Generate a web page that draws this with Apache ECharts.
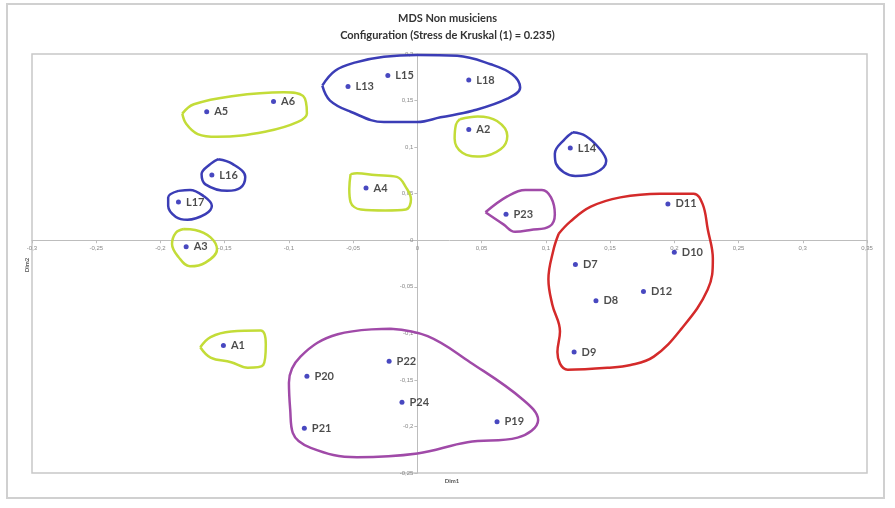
<!DOCTYPE html>
<html>
<head>
<meta charset="utf-8">
<script src="https://cdn.jsdelivr.net/npm/echarts@6/dist/echarts.min.js"></script>
<style>
  html, body { margin: 0; padding: 0; background: #fff; }
  #chart { width: 895px; height: 508px; }
</style>
</head>
<body>
<div id="chart"></div>
<script>
// MDS configuration: stimuli coordinates (Dim1, Dim2)
const names = ['L13', 'L15', 'L18', 'A5', 'A6', 'A2', 'L14', 'L16', 'L17', 'A4', 'A3', 'P23',
  'D11', 'D10', 'D7', 'D8', 'D12', 'D9', 'A1', 'P20', 'P21', 'P22', 'P24', 'P19'];
const dim1 = [-0.054, -0.023, 0.040, -0.164, -0.112, 0.040, 0.119, -0.160, -0.186, -0.040, -0.180, 0.069,
  0.195, 0.200, 0.123, 0.139, 0.176, 0.122, -0.151, -0.086, -0.088, -0.022, -0.012, 0.062];
const dim2 = [0.165, 0.177, 0.172, 0.138, 0.149, 0.119, 0.099, 0.070, 0.041, 0.056, -0.007, 0.028,
  0.039, -0.013, -0.026, -0.065, -0.055, -0.120, -0.113, -0.146, -0.202, -0.130, -0.174, -0.195];

// hand-drawn group outlines, in data coordinates
const outlineL13L15L18 = [[-0.074, 0.166], [-0.064, 0.182], [-0.048, 0.191], [-0.026, 0.197], [0, 0.199],
  [0.031, 0.198], [0.057, 0.189], [0.074, 0.178], [0.080, 0.164], [0.070, 0.152], [0.043, 0.139],
  [0.018, 0.132], [0, 0.127], [-0.026, 0.127], [-0.052, 0.138], [-0.068, 0.150]];
const outlineA5A6 = [[-0.183, 0.136], [-0.174, 0.146], [-0.143, 0.155], [-0.104, 0.159], [-0.089, 0.155],
  [-0.086, 0.136], [-0.093, 0.127], [-0.117, 0.117], [-0.156, 0.111], [-0.171, 0.114], [-0.180, 0.125]];
const outlineL16 = [[-0.155, 0.087], [-0.144, 0.082], [-0.134, 0.068], [-0.138, 0.056], [-0.148, 0.053],
  [-0.165, 0.060], [-0.168, 0.071], [-0.161, 0.082]];
const outlineL17 = [[-0.186, 0.053], [-0.194, 0.046], [-0.194, 0.037], [-0.188, 0.025], [-0.179, 0.022],
  [-0.165, 0.028], [-0.160, 0.037], [-0.166, 0.047], [-0.177, 0.054]];
const outlineA3 = [[-0.182, 0.012], [-0.188, 0.008], [-0.191, -0.004], [-0.186, -0.018], [-0.177, -0.028],
  [-0.165, -0.024], [-0.156, -0.010], [-0.161, 0.003], [-0.173, 0.011]];
const outlineA4 = [[-0.052, 0.071], [-0.053, 0.055], [-0.052, 0.041], [-0.044, 0.033], [-0.025, 0.032],
  [-0.009, 0.033], [-0.005, 0.044], [-0.009, 0.057], [-0.016, 0.068], [-0.033, 0.070], [-0.047, 0.072]];
const outlineA2 = [[0.033, 0.130], [0.047, 0.133], [0.062, 0.128], [0.070, 0.112], [0.065, 0.098],
  [0.049, 0.090], [0.035, 0.094], [0.029, 0.109], [0.030, 0.124]];
const outlineL14 = [[0.121, 0.116], [0.115, 0.109], [0.107, 0.093], [0.108, 0.082], [0.123, 0.069],
  [0.138, 0.072], [0.147, 0.085], [0.142, 0.098], [0.131, 0.112]];
const outlineP23 = [[0.053, 0.030], [0.070, 0.047], [0.084, 0.054], [0.097, 0.054], [0.104, 0.046],
  [0.107, 0.028], [0.103, 0.015], [0.088, 0.011], [0.076, 0.009], [0.067, 0.017]];
const outlineD = [[0.110, 0.007], [0.119, 0.020], [0.135, 0.036], [0.158, 0.046], [0.189, 0.050],
  [0.215, 0.050], [0.222, 0.039], [0.226, 0.012], [0.230, -0.020], [0.226, -0.053], [0.205, -0.096],
  [0.184, -0.125], [0.166, -0.134], [0.148, -0.137], [0.117, -0.139], [0.109, -0.120], [0.111, -0.098],
  [0.105, -0.069], [0.102, -0.042], [0.106, -0.010]];
const outlineA1 = [[-0.169, -0.115], [-0.161, -0.104], [-0.145, -0.098], [-0.122, -0.097], [-0.118, -0.112],
  [-0.120, -0.134], [-0.132, -0.137], [-0.145, -0.131], [-0.161, -0.126]];
const outlineP = [[-0.021, -0.095], [-0.062, -0.101], [-0.091, -0.125], [-0.100, -0.153], [-0.099, -0.182],
  [-0.097, -0.207], [-0.083, -0.223], [-0.047, -0.233], [0, -0.229], [0.039, -0.217], [0.078, -0.212],
  [0.094, -0.193], [0.082, -0.171], [0.041, -0.131], [0.008, -0.103]];

const GREEN = '#c3dc38', BLUE = '#3b3db6', PURPLE = '#a04aa8', RED = '#d42a2a';

const outlines = [
  [outlineL13L15L18, BLUE], [outlineA5A6, GREEN], [outlineL16, BLUE], [outlineL17, BLUE],
  [outlineA3, GREEN], [outlineA4, GREEN], [outlineA2, GREEN], [outlineL14, BLUE],
  [outlineP23, PURPLE], [outlineD, RED], [outlineA1, GREEN], [outlineP, PURPLE]
];

const fmt = v => String(+v.toFixed(2)).replace('.', ',');

const chart = echarts.init(document.getElementById('chart'));

const series = outlines.map(([pts, color]) => ({
  type: 'line',
  data: pts.concat([pts[0]]),
  smooth: 0.4,
  showSymbol: false,
  silent: true,
  lineStyle: { color, width: 2.5 },
  z: 1
}));

series.push({
  type: 'scatter',
  data: names.map((n, i) => [dim1[i], dim2[i], n]),
  symbolSize: 5,
  itemStyle: { color: '#1a1ab0' },
  label: {
    show: true,
    position: 'right',
    distance: 5,
    formatter: p => p.data[2],
    color: '#1e1e1e',
    fontFamily: 'Lato',
    fontWeight: 'bold',
    fontSize: 11
  },
  z: 3
});

const grid = { left: 32, right: 28, top: 54, bottom: 35 };

chart.setOption({
  animation: false,
  backgroundColor: '#fff',
  title: {
    text: 'MDS Non musiciens\nConfiguration (Stress de Kruskal (1) = 0.235)',
    left: 'center',
    top: 5,
    textStyle: { fontFamily: 'Lato', fontSize: 11, fontWeight: 'bold', color: '#333', lineHeight: 17 }
  },
  grid: Object.assign({ show: true, borderColor: '#c8c8c8', borderWidth: 1.5 }, grid),
  xAxis: {
    type: 'value', min: -0.3, max: 0.35, interval: 0.05, position: 'bottom',
    axisLine: { onZero: false, lineStyle: { color: '#bdbdbd' } },
    axisTick: { show: true, length: 3, lineStyle: { color: '#bdbdbd' } },
    axisLabel: { fontSize: 6, color: '#888', margin: 5, formatter: fmt, showMinLabel: true, showMaxLabel: true },
    splitLine: { show: false }
  },
  yAxis: {
    type: 'value', min: -0.25, max: 0.2, interval: 0.05, position: 'left',
    axisLine: { onZero: false, lineStyle: { color: '#bdbdbd' } },
    axisTick: { show: true, length: 3, lineStyle: { color: '#bdbdbd' } },
    axisLabel: { fontSize: 6, color: '#888', margin: 4, formatter: fmt, showMinLabel: true, showMaxLabel: true },
    splitLine: { show: false }
  },
  graphic: [
    { type: 'rect', shape: { x: 7, y: 4, width: 877, height: 494 },
      style: { fill: null, stroke: '#d0d0d0', lineWidth: 2 }, silent: true, z: -10 },
    { type: 'text', x: 452, y: 478, style: { text: 'Dim1', font: 'bold 6px Lato', fill: '#555', textAlign: 'center' } },
    { type: 'text', x: 24, y: 265, rotation: Math.PI / 2,
      style: { text: 'Dim2', font: 'bold 6px Lato', fill: '#555', textAlign: 'center' } }
  ],
  series
});

// move both axes (line, ticks and labels) onto the zero crossing
const zero = chart.convertToPixel({ gridIndex: 0 }, [0, 0]);
const H = chart.getHeight();
chart.setOption({
  xAxis: { offset: -((H - grid.bottom) - zero[1]) },
  yAxis: { offset: -(zero[0] - grid.left) }
});
</script>
</body>
</html>
